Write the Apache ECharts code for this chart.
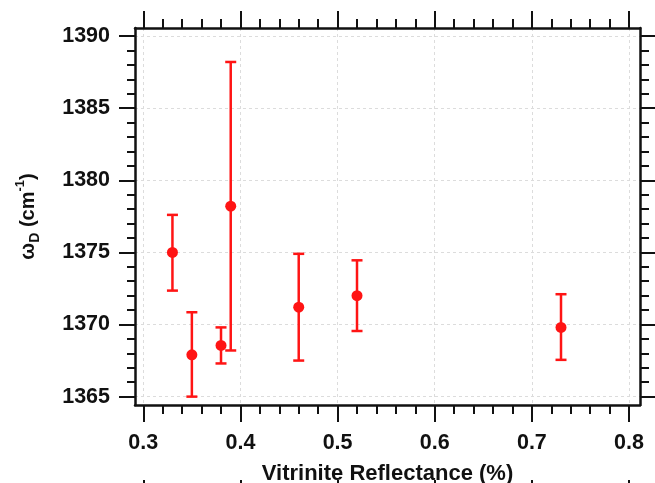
<!DOCTYPE html>
<html><head><meta charset="utf-8">
<script src="https://cdn.jsdelivr.net/npm/echarts@6/dist/echarts.min.js"></script>
<style>html,body{margin:0;padding:0;background:#fff}#c{width:655px;height:483px}</style>
</head><body><div id="c"></div>
<script>
// ---- data ----
const xValues = [0.33, 0.35, 0.38, 0.39, 0.46, 0.52, 0.73];
const yValues = [1375.0, 1367.9, 1368.55, 1378.2, 1371.2, 1372.0, 1369.8];
const yLow    = [1372.35, 1365.0, 1367.3, 1368.2, 1367.5, 1369.55, 1367.55];
const yHigh   = [1377.6, 1370.85, 1369.8, 1388.2, 1374.9, 1374.45, 1372.1];
const xMajorTicks = [0.3, 0.4, 0.5, 0.6, 0.7, 0.8];
const xMinorTicks = [0.32, 0.34, 0.36, 0.38, 0.42, 0.44, 0.46, 0.48, 0.52, 0.54, 0.56, 0.58,
                     0.62, 0.64, 0.66, 0.68, 0.72, 0.74, 0.76, 0.78];
const yMajorTicks = [1365, 1370, 1375, 1380, 1385, 1390];
const yMinorTicks = [1366, 1367, 1368, 1369, 1371, 1372, 1373, 1374, 1376, 1377, 1378, 1379,
                     1381, 1382, 1383, 1384, 1386, 1387, 1388, 1389];
const xRange = [0.29146, 0.81132];
const yRange = [1364.42, 1390.555];
const xName = 'Vitrinite Reflectance (%)';

// ---- styles ----
const RED = '#ff1414';
const INK = '#111111';
const FONT = '"Liberation Sans", Arial, sans-serif';

function xAx(opts) {
  return Object.assign({
    type: 'value', gridIndex: 0, min: xRange[0], max: xRange[1],
    axisLine: {show: false}, splitLine: {show: false}, axisLabel: {show: false},
    axisTick: {show: false}
  }, opts);
}
function yAx(opts) {
  return Object.assign({
    type: 'value', gridIndex: 0, min: yRange[0], max: yRange[1],
    axisLine: {show: false}, splitLine: {show: false}, axisLabel: {show: false},
    axisTick: {show: false}
  }, opts);
}
const lineStyle = {color: INK, width: 2.5};
const gridLine = {show: true, lineStyle: {color: '#dcdcdc', width: 1, type: [3, 3]}};
const labelStyle = {color: INK, fontFamily: FONT, fontWeight: 'bold', fontSize: 21.5, formatter: v => String(v)};

const chart = echarts.init(document.getElementById('c'), null, {renderer: 'canvas'});
chart.setOption({
  animation: false,
  backgroundColor: '#fff',
  grid: [
    {left: 135, right: 15, top: 28, bottom: 78, containLabel: false, outerBoundsMode: 'none'},
    {left: 135, right: 15, top: 497, height: 100, containLabel: false, outerBoundsMode: 'none'}
  ],
  xAxis: [
    xAx({position: 'bottom', axisLine: {show: true, onZero: false, lineStyle},
      splitLine: gridLine,
      axisTick: {show: true, inside: false, length: 17, lineStyle: {color: INK, width: 2}, customValues: xMajorTicks},
      axisLabel: Object.assign({show: true, margin: 27, customValues: xMajorTicks}, labelStyle),
      name: xName, nameLocation: 'middle', nameGap: 58,
      nameTextStyle: {color: INK, fontFamily: FONT, fontWeight: 'bold', fontSize: 22}
    }),
    xAx({position: 'bottom', axisTick: {show: true, length: 9, lineStyle: {color: INK, width: 2}, customValues: xMinorTicks}}),
    xAx({position: 'top', axisLine: {show: true, onZero: false, lineStyle},
      axisTick: {show: true, length: 17, lineStyle: {color: INK, width: 2}, customValues: xMajorTicks}}),
    xAx({position: 'top', axisTick: {show: true, length: 9, lineStyle: {color: INK, width: 2}, customValues: xMinorTicks}}),
    xAx({gridIndex: 1, position: 'top', axisLine: {show: true, onZero: false, lineStyle},
      axisTick: {show: true, length: 17, lineStyle: {color: INK, width: 2}, customValues: xMajorTicks}})
  ],
  yAxis: [
    yAx({position: 'left', axisLine: {show: true, onZero: false, lineStyle},
      splitLine: gridLine,
      axisTick: {show: true, length: 16, lineStyle: {color: INK, width: 2}, customValues: yMajorTicks},
      axisLabel: Object.assign({show: true, margin: 25, customValues: yMajorTicks}, labelStyle),
      name: '{m|ω}{sub|D}{m| (cm}{sup|-1}{m|)}',
      nameLocation: 'middle', nameGap: 93, nameRotate: 90,
      nameTextStyle: {
        color: INK, fontFamily: FONT, fontWeight: 'bold', fontSize: 20,
        rich: {
          m: {color: INK, fontFamily: FONT, fontWeight: 'bold', fontSize: 20, lineHeight: 28},
          sub: {color: INK, fontFamily: FONT, fontWeight: 'bold', fontSize: 14, verticalAlign: 'bottom', lineHeight: 14},
          sup: {color: INK, fontFamily: FONT, fontWeight: 'bold', fontSize: 13, verticalAlign: 'top', lineHeight: 13}
        }
      }
    }),
    yAx({position: 'left', axisTick: {show: true, length: 8, lineStyle: {color: INK, width: 2}, customValues: yMinorTicks}}),
    yAx({position: 'right', axisLine: {show: true, onZero: false, lineStyle},
      axisTick: {show: true, length: 16, lineStyle: {color: INK, width: 2}, customValues: yMajorTicks}}),
    yAx({position: 'right', axisTick: {show: true, length: 9, lineStyle: {color: INK, width: 2}, customValues: yMinorTicks}}),
    {type: 'value', gridIndex: 1, show: false, min: 0, max: 1}
  ],
  series: [
    {
      type: 'custom',
      xAxisIndex: 0, yAxisIndex: 0,
      data: xValues.map((x, i) => [x, yLow[i], yHigh[i]]),
      encode: {x: 0, y: [1, 2]},
      renderItem: function (params, api) {
        const lo = api.coord([api.value(0), api.value(1)]);
        const hi = api.coord([api.value(0), api.value(2)]);
        const hw = 5.5;
        const st = {stroke: RED, lineWidth: 2.5};
        return {type: 'group', children: [
          {type: 'line', shape: {x1: lo[0], y1: lo[1], x2: hi[0], y2: hi[1]}, style: st},
          {type: 'line', shape: {x1: lo[0] - hw, y1: lo[1], x2: lo[0] + hw, y2: lo[1]}, style: st},
          {type: 'line', shape: {x1: hi[0] - hw, y1: hi[1], x2: hi[0] + hw, y2: hi[1]}, style: st}
        ]};
      },
      z: 3
    },
    {
      type: 'scatter',
      xAxisIndex: 0, yAxisIndex: 0,
      data: xValues.map((x, i) => [x, yValues[i]]),
      symbol: 'circle', symbolSize: 11,
      itemStyle: {color: RED, opacity: 1},
      z: 4
    }
  ]
});
</script></body></html>
